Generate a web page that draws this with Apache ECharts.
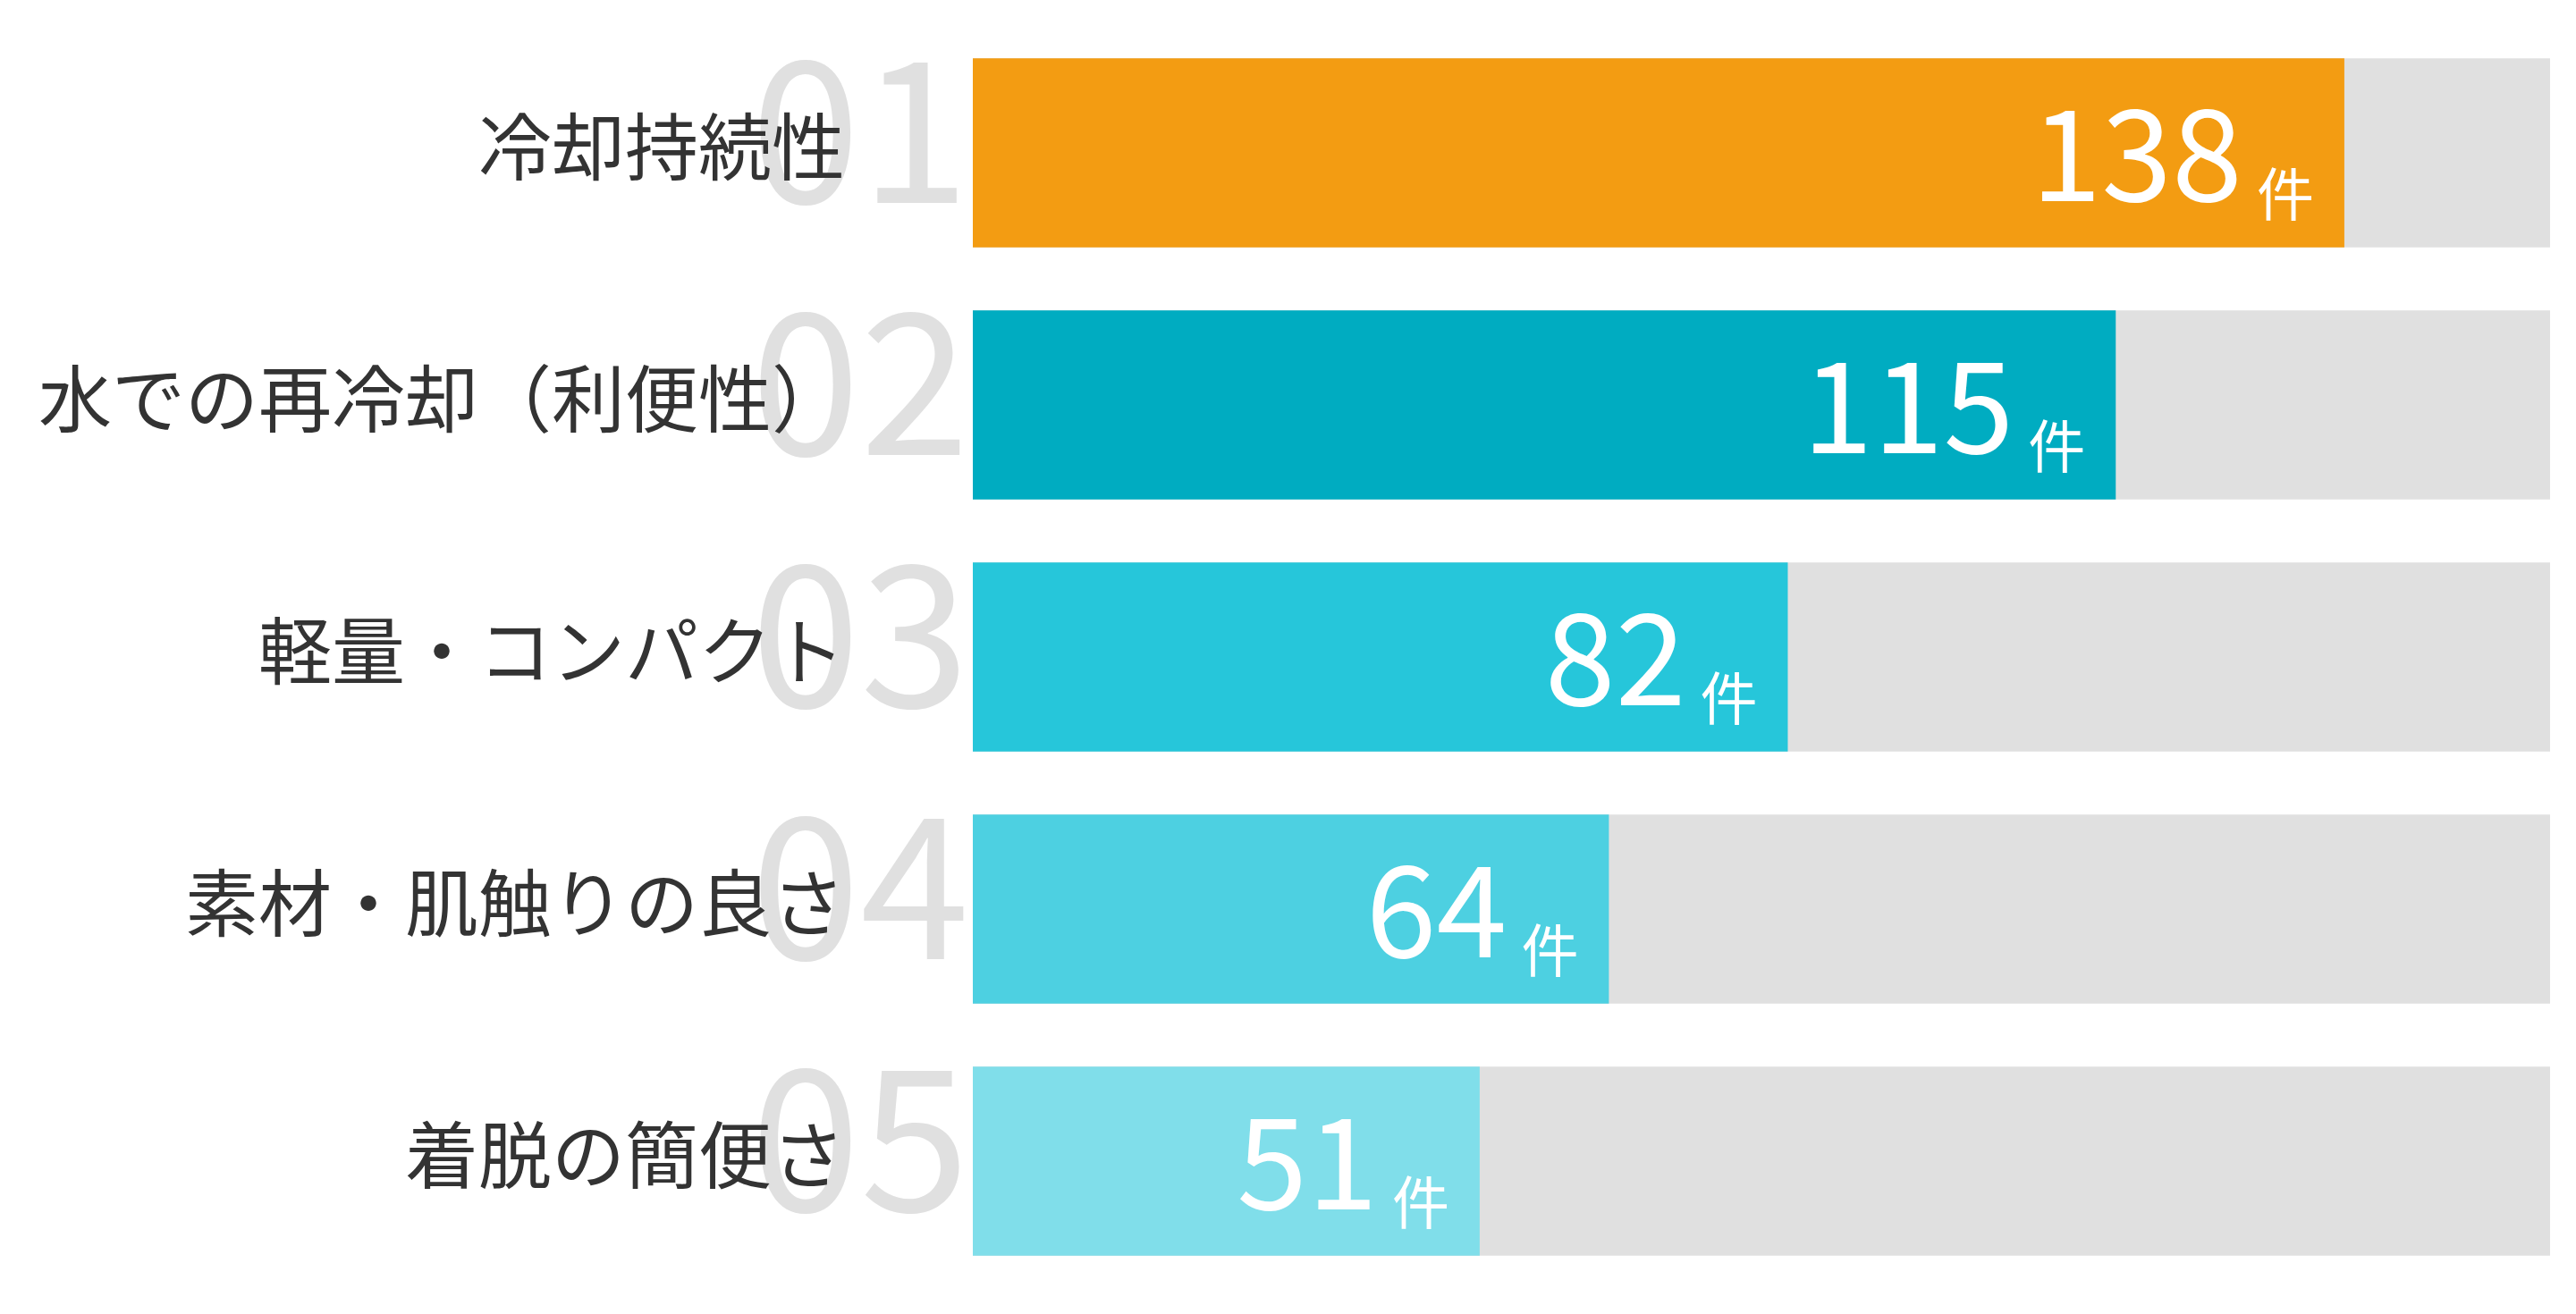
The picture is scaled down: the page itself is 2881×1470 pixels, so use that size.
<!DOCTYPE html>
<html>
<head>
<meta charset="utf-8">
<script src="https://cdn.jsdelivr.net/npm/echarts@6/dist/echarts.min.js"></script>
<style>
html,body{margin:0;padding:0;background:#fff;}
#main{width:2881px;height:1470px;}
</style>
</head>
<body>
<div id="main"></div>
<script>
const categories = ['冷却持続性', '水での再冷却（利便性）', '軽量・コンパクト', '素材・肌触りの良さ', '着脱の簡便さ'];
const ranks = ['01', '02', '03', '04', '05'];
const values = [138, 115, 82, 64, 51];
const colors = ['#F39C12', '#00ACC1', '#26C6DA', '#4DD0E1', '#80DEEA'];
const unit = '件';

const FONT = '"Noto Sans CJK JP", "Noto Sans", sans-serif';

const chart = echarts.init(document.getElementById('main'), null, {renderer: 'canvas'});
chart.setOption({
  backgroundColor: '#ffffff',
  animation: false,
  grid: {left: 1088, right: 29, top: 30, bottom: 30, containLabel: false},
  xAxis: {
    type: 'value', min: 0,
    max: function (e) { return e.max * 1.15; },
    show: false
  },
  yAxis: [
    {
      type: 'category', data: categories, inverse: true, z: 3,
      axisLine: {show: false}, axisTick: {show: false}, splitLine: {show: false},
      axisLabel: {
        interval: 0,
        fontSize: 82, color: '#333333', fontFamily: FONT, margin: 143,
        verticalAlign: 'bottom', lineHeight: 14
      }
    },
    {
      type: 'category', data: ranks, inverse: true, position: 'left', z: 1,
      axisLine: {show: false}, axisTick: {show: false}, splitLine: {show: false},
      axisLabel: {
        interval: 0, hideOverlap: false,
        fontSize: 220, color: '#E0E0E0', fontFamily: FONT, margin: 4,
        verticalAlign: 'bottom', lineHeight: 56
      }
    }
  ],
  series: [{
    type: 'bar',
    yAxisIndex: 0,
    barWidth: '75%',
    showBackground: true,
    backgroundStyle: {color: '#E0E0E0'},
    data: values.map((v, i) => ({value: v, itemStyle: {color: colors[i]}})),
    label: {
      show: true,
      position: 'insideRight',
      distance: 34,
      padding: [7, 0, 0, 0],
      formatter: p => '{a|' + p.value + '}{b|' + unit + '}',
      rich: {
        a: {fontSize: 142, color: '#fff', fontFamily: FONT, verticalAlign: 'bottom', padding: [0, 16, 7, 0]},
        b: {fontSize: 64, color: '#fff', fontFamily: FONT, verticalAlign: 'bottom'}
      }
    }
  }]
});
</script>
</body>
</html>
